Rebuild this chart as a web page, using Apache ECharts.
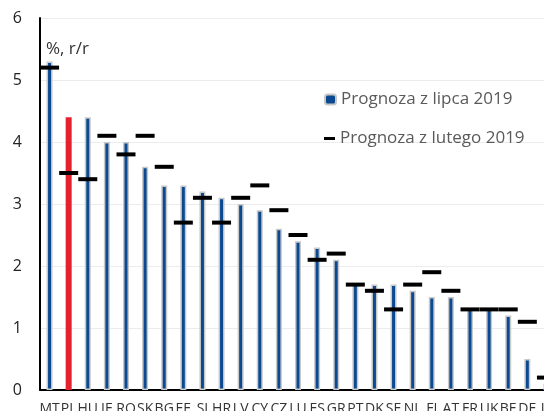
<!DOCTYPE html>
<html>
<head>
<meta charset="utf-8">
<script src="https://cdn.jsdelivr.net/npm/echarts@6/dist/echarts.min.js"></script>
<style>
  html, body { margin: 0; padding: 0; background: #fff; }
  #chart { width: 544px; height: 411px; }
</style>
</head>
<body>
<div id="chart"></div>
<script>
// kraje
var countries = ['MT', 'PL', 'HU', 'IE', 'RO', 'SK', 'BG', 'EE', 'SI', 'HR', 'LV', 'CY', 'CZ', 'LU',
  'ES', 'GR', 'PT', 'DK', 'SE', 'NL', 'FI', 'AT', 'FR', 'UK', 'BE', 'DE', 'IT'];
// prognoza z lipca 2019 (słupki)
var julyForecast = [5.3, 4.4, 4.4, 4.0, 4.0, 3.6, 3.3, 3.3, 3.2, 3.1, 3.0, 2.9, 2.6, 2.4,
  2.3, 2.1, 1.7, 1.7, 1.7, 1.6, 1.5, 1.5, 1.3, 1.3, 1.2, 0.5, 0.1];
// prognoza z lutego 2019 (kreski)
var febForecast = [5.2, 3.5, 3.4, 4.1, 3.8, 4.1, 3.6, 2.7, 3.1, 2.7, 3.1, 3.3, 2.9, 2.5,
  2.1, 2.2, 1.7, 1.6, 1.3, 1.7, 1.9, 1.6, 1.3, 1.3, 1.3, 1.1, 0.2];
var yTicks = [0, 1, 2, 3, 4, 5, 6];
var highlight = 'PL';

var blue = '#0b4a91';
var red = '#e4222f';
var font = 'Open Sans';

var barData = julyForecast.map(function (v, i) {
  if (countries[i] === highlight) {
    // PL wyróżniona na czerwono, nieco szersza
    return { value: v, itemStyle: { color: red, borderColor: red, borderWidth: 2 } };
  }
  return v;
});

var chart = echarts.init(document.getElementById('chart'));
chart.setOption({
  animation: false,
  textStyle: { fontFamily: font },
  // wykres celowo wychodzi poza prawą i dolną krawędź
  grid: { left: 40, top: 18, width: 516, height: 372, outerBoundsMode: 'none' },
  legend: [
    {
      data: ['Prognoza z lipca 2019'],
      left: 319, top: 86,
      itemWidth: 11, itemHeight: 10, itemGap: 4,
      textStyle: { color: '#5a5a5a', fontSize: 17, fontFamily: font }
    },
    {
      data: ['Prognoza z lutego 2019'],
      left: 319, top: 125,
      itemWidth: 11, itemHeight: 3,
      textStyle: { color: '#5a5a5a', fontSize: 17, fontFamily: font }
    }
  ],
  xAxis: {
    type: 'category',
    data: countries,
    axisLine: { lineStyle: { color: '#000', width: 2 } },
    axisTick: { show: false },
    axisLabel: { interval: 0, margin: 12, fontSize: 14, color: '#333' }
  },
  yAxis: {
    type: 'value',
    min: yTicks[0], max: yTicks[yTicks.length - 1], interval: 1,
    axisLine: { show: true, lineStyle: { color: '#000', width: 2 } },
    axisTick: { show: false },
    splitLine: { lineStyle: { color: '#ececec' } },
    axisLabel: { fontSize: 16, color: '#222', margin: 18 }
  },
  graphic: [{
    type: 'text', left: 46, top: 41,
    style: { text: '%, r/r', fontSize: 17, fill: '#333', fontFamily: font }
  }],
  series: [
    {
      name: 'Prognoza z lipca 2019',
      type: 'bar',
      data: barData,
      barWidth: 6,
      itemStyle: { color: blue, borderColor: '#c8c8c8', borderWidth: 1.5 }
    },
    {
      name: 'Prognoza z lutego 2019',
      type: 'scatter',
      data: febForecast,
      symbol: 'rect',
      symbolSize: [19, 4],
      itemStyle: { color: '#000', opacity: 1 },
      z: 5
    }
  ]
});
</script>
</body>
</html>
